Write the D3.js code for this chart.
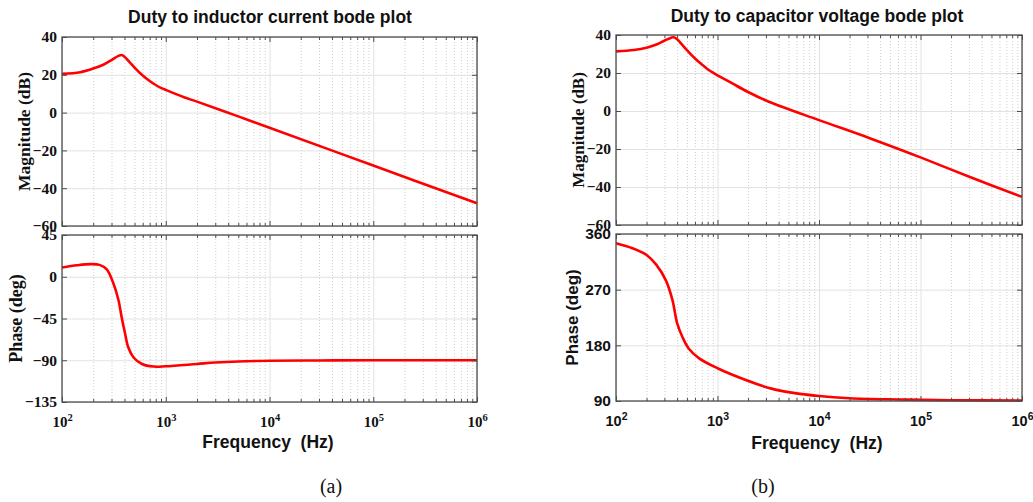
<!DOCTYPE html>
<html>
<head>
<meta charset="utf-8">
<script src="https://cdn.jsdelivr.net/npm/d3@7"></script>
<style>
  body { margin: 0; background: #fff; }
</style>
</head>
<body>
<svg width="1033" height="502"></svg>
<script>
// frequency decades for the log axis
var decades = [1e2, 1e3, 1e4, 1e5, 1e6];

// y ticks
var magTicks = [-60, -40, -20, 0, 20, 40];
var phaseTicksA = [-135, -90, -45, 0, 45];
var phaseTicksB = [90, 180, 270, 360];

// (a) duty to inductor current
var magFreqA = [100, 150, 200, 250, 300, 350, 375, 400, 450, 500, 600, 700, 800, 900, 1000, 1500, 2000, 5000, 1e4, 1e5, 1e6];
var magA = [20.5, 21.4, 23.3, 25.3, 27.8, 30.0, 30.5, 29.6, 26.6, 23.8, 19.6, 16.7, 14.6, 13.1, 12.0, 8.1, 5.8, -2.0, -8.0, -28.0, -48.0];

var phaseFreqA = [100, 140, 190, 230, 270, 310, 350, 375, 405, 435, 490, 590, 760, 1000, 2000, 3000, 5000, 1e4, 3e4, 1e5, 1e6];
var phaseA = [10, 12.4, 13.6, 12.8, 8, -6, -25, -43, -61, -76, -87, -94, -96.8, -96.5, -94, -92.5, -91.3, -90.6, -90.2, -90, -90];

// (b) duty to capacitor voltage
var magFreqB = [100, 150, 200, 250, 300, 350, 370, 400, 450, 500, 600, 700, 800, 900, 1000, 1400, 2000, 3160, 1e4, 3.16e4, 1e5, 3.16e5, 1e6];
var magB = [31.4, 32.1, 33.3, 35.0, 37.0, 38.6, 38.8, 37.8, 34.8, 32.0, 27.6, 24.5, 22.0, 20.2, 18.8, 14.5, 10.0, 5.0, -4.8, -14.3, -24.4, -35.0, -45.2];

var phaseFreqB = [100, 145, 200, 250, 310, 360, 400, 450, 520, 660, 1000, 1900, 3400, 5400, 1e4, 2e4, 6e4, 2e5, 1e6];
var phaseB = [345, 337, 326, 310, 285, 253, 216, 194, 175, 159, 143, 124, 110, 103.5, 98, 94.5, 92.5, 91.3, 90.8];

var minorTicks = [];
decades.slice(0, 4).forEach(function(d) {
  for (var k = 2; k <= 9; k++) minorTicks.push(k * d);
});

var svg = d3.select("svg");
var serif = "'Liberation Serif', 'Times New Roman', serif";
var sans = "'Liberation Sans', Arial, sans-serif";

function panel(cfg) {
  var x = d3.scaleLog().domain([1e2, 1e6]).range([cfg.x0, cfg.x1]);
  var y = d3.scaleLinear().domain(cfg.domain).range([cfg.y1, cfg.y0]);
  var h = cfg.y1 - cfg.y0, w = cfg.x1 - cfg.x0;
  var g = svg.append("g");

  // minor vertical grid (dotted)
  g.append("g")
   .attr("transform", "translate(0," + cfg.y1 + ")")
   .call(d3.axisBottom(x).tickValues(minorTicks).tickSize(-h).tickFormat(""))
   .call(function(s) { s.select(".domain").remove(); })
   .selectAll("line")
   .attr("stroke", "#cfcfcf")
   .attr("stroke-dasharray", "1,2");

  // major grid
  g.append("g")
   .attr("transform", "translate(0," + cfg.y1 + ")")
   .call(d3.axisBottom(x).tickValues(decades).tickSize(-h).tickFormat(""))
   .call(function(s) { s.select(".domain").remove(); })
   .selectAll("line").attr("stroke", "#e2e2e2");
  g.append("g")
   .attr("transform", "translate(" + cfg.x0 + ",0)")
   .call(d3.axisLeft(y).tickValues(cfg.ticks).tickSize(-w).tickFormat(""))
   .call(function(s) { s.select(".domain").remove(); })
   .selectAll("line").attr("stroke", "#e2e2e2");

  // curve
  var line = d3.line()
    .x(function(d) { return x(d[0]); })
    .y(function(d) { return y(d[1]); })
    .curve(d3.curveCatmullRom.alpha(0.5));
  g.append("path")
   .datum(d3.zip(cfg.freq, cfg.values))
   .attr("d", line)
   .attr("fill", "none")
   .attr("stroke", "#ff0000")
   .attr("stroke-width", 2.6)
   .attr("stroke-linejoin", "round");

  // inner tick marks on all four sides
  function ticks(axis, tr) {
    g.append("g").attr("transform", tr).call(axis.tickFormat(""))
     .call(function(s) { s.select(".domain").remove(); })
     .selectAll("line").attr("stroke", "#4d4d4d");
  }
  ticks(d3.axisBottom(x).tickValues(decades).tickSize(-5), "translate(0," + cfg.y1 + ")");
  ticks(d3.axisBottom(x).tickValues(minorTicks).tickSize(-3), "translate(0," + cfg.y1 + ")");
  ticks(d3.axisTop(x).tickValues(decades).tickSize(-5), "translate(0," + cfg.y0 + ")");
  ticks(d3.axisTop(x).tickValues(minorTicks).tickSize(-3), "translate(0," + cfg.y0 + ")");
  ticks(d3.axisLeft(y).tickValues(cfg.ticks).tickSize(-5), "translate(" + cfg.x0 + ",0)");
  ticks(d3.axisRight(y).tickValues(cfg.ticks).tickSize(-5), "translate(" + cfg.x1 + ",0)");

  // box
  g.append("rect")
   .attr("x", cfg.x0).attr("y", cfg.y0)
   .attr("width", w).attr("height", h)
   .attr("fill", "none")
   .attr("stroke", "#4d4d4d")
   .attr("stroke-width", 1.3);

  // y tick labels
  g.append("g")
   .attr("transform", "translate(" + cfg.x0 + ",0)")
   .call(d3.axisLeft(y).tickValues(cfg.ticks).tickSize(0).tickPadding(5))
   .call(function(s) { s.select(".domain").remove(); })
   .selectAll("text")
   .attr("fill", "#111")
   .style("font-family", cfg.tickFont)
   .style("font-weight", "bold")
   .style("font-size", "15.5px");

  // y label
  g.append("text")
   .attr("transform", "translate(" + cfg.labelX + "," + (cfg.y0 + h / 2) + ") rotate(-90)")
   .attr("text-anchor", "middle")
   .style("font-family", cfg.labelFont)
   .style("font-weight", "bold")
   .style("font-size", cfg.labelSize)
   .attr("fill", "#111")
   .text(cfg.label);

  return x;
}

function freqLabels(x, y1, font, size) {
  var ax = svg.append("g")
    .attr("transform", "translate(0," + y1 + ")")
    .call(d3.axisBottom(x).tickValues(decades).tickSize(0));
  ax.select(".domain").remove();
  ax.selectAll("text")
    .attr("y", 25).attr("dy", null)
    .attr("fill", "#111")
    .style("font-family", font)
    .style("font-weight", "bold")
    .style("font-size", size)
    .text(null)
    .each(function(d) {
      var t = d3.select(this);
      t.append("tspan").text("10");
      t.append("tspan").attr("dy", "-0.6em").style("font-size", "10.5px")
       .text(Math.round(Math.log10(d)));
    });
}

// ---- (a) ----
var xA = panel({ x0: 62, x1: 477, y0: 37, y1: 226, domain: [-60, 40], ticks: magTicks,
  freq: magFreqA, values: magA, tickFont: serif, labelFont: serif, labelSize: "17.5px",
  label: "Magnitude (dB)", labelX: 30 });
panel({ x0: 62, x1: 477, y0: 235, y1: 402, domain: [-135, 45], ticks: phaseTicksA,
  freq: phaseFreqA, values: phaseA, tickFont: serif, labelFont: serif, labelSize: "18px",
  label: "Phase (deg)", labelX: 22 });
freqLabels(xA, 402, serif, "15px");

// ---- (b) ----
var xB = panel({ x0: 616, x1: 1022, y0: 35, y1: 225, domain: [-60, 40], ticks: magTicks,
  freq: magFreqB, values: magB, tickFont: serif, labelFont: serif, labelSize: "17px",
  label: "Magnitude (dB)", labelX: 584 });
panel({ x0: 616, x1: 1022, y0: 234, y1: 401, domain: [90, 360], ticks: phaseTicksB,
  freq: phaseFreqB, values: phaseB, tickFont: sans, labelFont: sans, labelSize: "17px",
  label: "Phase (deg)", labelX: 578 });
freqLabels(xB, 401, sans, "14.5px");

// titles, x labels, captions
function label(txt, x, y, font, size, weight) {
  svg.append("text")
     .attr("x", x).attr("y", y)
     .attr("text-anchor", "middle")
     .attr("fill", "#111")
     .style("white-space", "pre")
     .style("font-family", font)
     .style("font-size", size)
     .style("font-weight", weight)
     .text(txt);
}
label("Duty to inductor current bode plot", 270, 23, sans, "17.5px", "bold");
label("Duty to capacitor voltage bode plot", 817, 22, sans, "17.5px", "bold");
label("Frequency  (Hz)", 268, 448, sans, "17.5px", "bold");
label("Frequency  (Hz)", 817, 449, sans, "17.5px", "bold");
label("(a)", 331, 493, serif, "20px", "normal");
label("(b)", 763, 493, serif, "20px", "normal");
</script>
</body>
</html>
